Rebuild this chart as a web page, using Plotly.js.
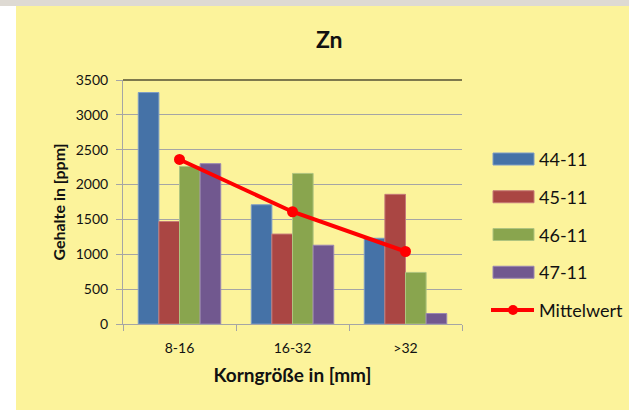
<!DOCTYPE html>
<html><head><meta charset="utf-8">
<script src="https://cdn.plot.ly/plotly-3.0.1.min.js"></script>
<style>
html,body{margin:0;padding:0;background:#fff;width:629px;height:410px;overflow:hidden}
#top{position:absolute;left:0;top:0;width:629px;height:6px;background:#DEDAD3}
#chart{position:absolute;left:16px;top:6px;width:613px;height:404px}
</style></head><body>
<div id="top"></div><div id="chart"></div>
<script>
// ---- data ----
const categories = ['8-16', '16-32', '>32'];
const seriesNames = ['44-11', '45-11', '46-11', '47-11'];
const s44 = [3320, 1710, 1230];
const s45 = [1470, 1290, 1860];
const s46 = [2260, 2160, 740];
const s47 = [2300, 1130, 150];
const meanName = 'Mittelwert';
const mittelwert = [2360, 1610, 1040];
const yTicks = [0, 500, 1000, 1500, 2000, 2500, 3000, 3500];

// ---- style ----
const colors = ['#4572A7', '#AA4643', '#89A54E', '#71588F'];
const edge = ['#7C9CC6', '#C67A77', '#AFC47F', '#9A86B2'];
const bg = '#FCF39B';
const grid = '#A5A5A5';
const txt = '#111111';
const FONT = 'Lato, "Open Sans", sans-serif';

const W = 613, H = 404;
const M = {l: 107, r: 167, t: 74, b: 86};
const PW = W - M.l - M.r, PH = H - M.t - M.b;
const px = x => (x - M.l) / PW;
const py = y => (M.t + PH - y) / PH;

const seriesVals = [s44, s45, s46, s47];
const traces = seriesVals.map((vals, i) => ({
  type: 'bar', name: seriesNames[i], x: categories, y: vals,
  marker: {color: colors[i], line: {color: edge[i], width: 1}},
  showlegend: false, hoverinfo: 'x+y+name'
}));
traces.push({
  type: 'scatter', mode: 'lines+markers', name: meanName,
  x: categories, y: mittelwert,
  line: {color: '#FF0000', width: 4},
  marker: {color: '#FF0000', size: 11},
  showlegend: false
});

// custom legend (wide swatches like the reference)
const shapes = [{
  type: 'line', xref: 'paper', yref: 'paper', x0: 0, x1: 1, y0: 1, y1: 1,
  line: {color: '#000', width: 1.2}
}];
const annotations = [];
const legY0 = 153, legStep = 37.75;
const swL = 477, swR = 518, txtX = 521;
seriesNames.forEach((n, i) => {
  const yc = legY0 + i * legStep;
  shapes.push({type: 'rect', xref: 'paper', yref: 'paper',
    x0: px(swL), x1: px(swR), y0: py(yc - 6), y1: py(yc + 6),
    fillcolor: colors[i], line: {color: edge[i], width: 1}});
  annotations.push({xref: 'paper', yref: 'paper', x: px(txtX), y: py(yc),
    xanchor: 'left', yanchor: 'middle', showarrow: false, text: n,
    font: {family: FONT, size: 18, color: txt}});
});
{
  const yc = legY0 + 4 * legStep;
  shapes.push({type: 'line', xref: 'paper', yref: 'paper',
    x0: px(swL - 2), x1: px(swR), y0: py(yc), y1: py(yc),
    line: {color: '#FF0000', width: 4}});
  shapes.push({type: 'circle', xref: 'paper', yref: 'paper',
    x0: px(497 - 5), x1: px(497 + 5), y0: py(yc - 5), y1: py(yc + 5),
    fillcolor: '#FF0000', line: {color: '#FF0000', width: 0}});
  annotations.push({xref: 'paper', yref: 'paper', x: px(txtX), y: py(yc),
    xanchor: 'left', yanchor: 'middle', showarrow: false, text: meanName,
    font: {family: FONT, size: 18, color: txt}});
}

const layout = {
  width: W, height: H,
  margin: M,
  paper_bgcolor: bg, plot_bgcolor: bg,
  font: {family: FONT, color: txt},
  barmode: 'group', bargap: 0.27, bargroupgap: 0,
  showlegend: false,
  title: {text: 'Zn', font: {family: FONT, size: 23, weight: 'bold', color: txt},
    x: 0.511, xref: 'container', y: 1 - 34 / H, yref: 'container', yanchor: 'middle', xanchor: 'center'},
  xaxis: {
    type: 'category', tickson: 'boundaries', ticks: 'outside', ticklen: 6,
    tickcolor: grid, showline: true, linecolor: grid, linewidth: 1,
    showgrid: false, zeroline: false,
    tickfont: {family: FONT, size: 14, color: txt}, ticklabelstandoff: 11,
    title: {text: 'Korngröße in [mm]', font: {family: FONT, size: 19, weight: 'bold', color: txt}, standoff: 13}
  },
  yaxis: {
    range: [0, 3500], tickvals: yTicks, ticktext: yTicks.map(String),
    ticks: 'outside', ticklen: 6, tickcolor: grid,
    showline: true, linecolor: grid, linewidth: 1,
    showgrid: true, gridcolor: grid, gridwidth: 1, zeroline: false,
    tickfont: {family: FONT, size: 14, color: txt}, ticklabelstandoff: 5,
    title: {text: 'Gehalte in [ppm]', font: {family: FONT, size: 16, weight: 'bold', color: txt}, standoff: 6}
  },
  shapes: shapes,
  annotations: annotations
};

Plotly.newPlot('chart', traces, layout, {displayModeBar: false, staticPlot: true});
</script>
</body></html>
